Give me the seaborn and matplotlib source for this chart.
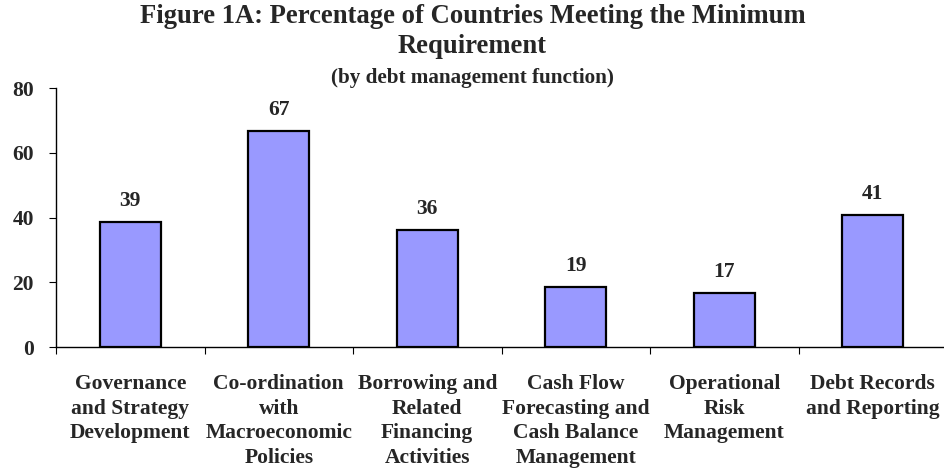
import matplotlib
matplotlib.use("Agg")
import matplotlib.pyplot as plt
import seaborn as sns
import pandas as pd
from matplotlib.ticker import MultipleLocator, FixedLocator

categories = [
    "Governance\nand Strategy\nDevelopment",
    "Co-ordination\nwith\nMacroeconomic\nPolicies",
    "Borrowing and\nRelated\nFinancing\nActivities",
    "Cash Flow\nForecasting and\nCash Balance\nManagement",
    "Operational\nRisk\nManagement",
    "Debt Records\nand Reporting",
]
values = [38.6, 66.7, 36.2, 18.6, 16.7, 40.7]
value_labels = ["39", "67", "36", "19", "17", "41"]

sns.set_theme(style="white")
plt.rcParams["font.family"] = ["Liberation Serif", "DejaVu Serif"]
plt.rcParams["font.weight"] = "bold"

df = pd.DataFrame({"cat": categories, "val": values})

fig = plt.figure(figsize=(9.45, 4.68), dpi=100)
ax = fig.add_axes([0.0593, 0.2585, 0.9429, 0.5528])
sns.barplot(data=df, x="cat", y="val", color="#9999FF", saturation=1,
            edgecolor="black", linewidth=1.6, width=0.41, ax=ax)

ax.set_xlim(-0.5, 5.5)
ax.set_ylim(0, 80)
ax.yaxis.set_major_locator(MultipleLocator(20))
ax.set_xlabel("")
ax.set_ylabel("")
for s in ["top", "right"]:
    ax.spines[s].set_visible(False)
for s in ["left", "bottom"]:
    ax.spines[s].set_color("black")
    ax.spines[s].set_linewidth(1.0)

ax.tick_params(axis="y", which="major", direction="out", length=5, width=0.8,
               color="black", labelsize=15.5, pad=11, left=True)
for t in ax.get_yticklabels():
    t.set_fontweight("bold")

ax.xaxis.set_minor_locator(FixedLocator([i - 0.5 for i in range(7)]))
ax.tick_params(axis="x", which="minor", direction="out", length=5, width=0.8,
               color="black", bottom=True)
ax.tick_params(axis="x", which="major", length=0, pad=19.5, labelsize=15.5)
ax.set_xticks(range(len(categories)))
ax.set_xticklabels(categories, fontsize=15.5, fontweight="bold",
                   linespacing=1.3, va="top", ha="center")

for i, (v, lab) in enumerate(zip(values, value_labels)):
    ax.annotate(lab, (i, v), xytext=(0, 8), textcoords="offset points",
                ha="center", va="bottom", fontsize=15.5, fontweight="bold")

fig.text(0.5, 0.932, "Figure 1A: Percentage of Countries Meeting the Minimum\nRequirement",
         ha="center", va="center", fontsize=19.2, fontweight="bold", linespacing=1.25)
fig.text(0.5, 0.8344, "(by debt management function)", ha="center", va="center",
         fontsize=15.2, fontweight="bold")

fig.savefig("out.png", dpi=100)
